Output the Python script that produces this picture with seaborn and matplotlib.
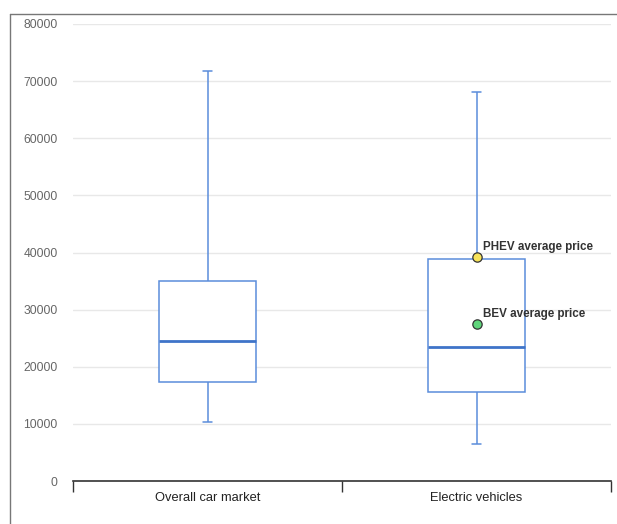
import pandas as pd
import matplotlib.pyplot as plt
import seaborn as sns
from matplotlib.lines import Line2D

categories = ["Overall car market", "Electric vehicles"]
# five-number summaries: min, q1, median, q3, max
overall = [10300, 17300, 24500, 35000, 71800]
electric = [6400, 15600, 23400, 38900, 68100]
point_labels = ["PHEV average price", "BEV average price"]
point_values = [39200, 27500]
point_colors = ["#f7e35a", "#5fd57b"]
yticks = [0, 10000, 20000, 30000, 40000, 50000, 60000, 70000, 80000]

df = pd.DataFrame({
    "category": [categories[0]] * len(overall) + [categories[1]] * len(electric),
    "price": overall + electric,
})

sns.set_style("white")
plt.rcParams["font.family"] = ["Liberation Sans", "DejaVu Sans"]

fig = plt.figure(figsize=(6.17, 5.24), dpi=100)
ax = fig.add_axes([73 / 617, 43 / 524, 538 / 617, 457 / 524])

blue = "#5b8ddb"
sns.boxplot(data=df, x="category", y="price", order=categories, whis=(0, 100),
            width=0.36, color="white", linecolor=blue, linewidth=1.1,
            showcaps=True, ax=ax,
            medianprops=dict(color="#3f74c9", linewidth=2),
            capprops=dict(color=blue, linewidth=1.1),
            boxprops=dict(facecolor="white", edgecolor=blue))

# shorten caps
ends = (overall[0], overall[-1], electric[0], electric[-1])
for line in ax.lines:
    xd = line.get_xdata()
    yd = line.get_ydata()
    if len(xd) == 2 and yd[0] == yd[1] and yd[0] in ends:
        c = (xd[0] + xd[1]) / 2
        line.set_xdata([c - 0.015, c + 0.015])

for lab, val, col in zip(point_labels, point_values, point_colors):
    ax.scatter([1], [val], s=45, color=col, edgecolor="#333333", linewidth=0.9, zorder=5)
    ax.annotate(lab, (1, val), xytext=(4.5, 7), textcoords="offset points",
                fontsize=8.4, fontweight="bold", color="#333333", va="center")

ax.set_xlim(-0.5, 1.5)
ax.set_ylim(0, 80000)
ax.set_yticks(yticks)
ax.set_yticklabels([str(t) for t in yticks])
ax.yaxis.grid(True, color="#e8e8e8", linewidth=1)
ax.set_axisbelow(True)
ax.tick_params(axis="y", length=0, pad=11, labelsize=8.7, labelcolor="#666666")
ax.set_xticks([0, 1])
ax.set_xticks([-0.5, 0.5, 1.5], minor=True)
ax.tick_params(axis="x", which="major", bottom=False, length=0, pad=8, labelsize=9.3, labelcolor="#222222")
ax.tick_params(axis="x", which="minor", bottom=True, length=8, width=1, color="#333333", direction="out")
ax.set_xlabel("")
ax.set_ylabel("")
for s in ["top", "right", "left"]:
    ax.spines[s].set_visible(False)
ax.spines["bottom"].set_color("#333333")
ax.spines["bottom"].set_linewidth(1.2)

# screenshot frame at left and top
fig.add_artist(Line2D([10 / 617, 10 / 617], [0, 1 - 14 / 524], transform=fig.transFigure, color="#777777", linewidth=1))
fig.add_artist(Line2D([10 / 617, 1], [1 - 14 / 524, 1 - 14 / 524], transform=fig.transFigure, color="#777777", linewidth=1))

fig.savefig("out.png", dpi=100)
